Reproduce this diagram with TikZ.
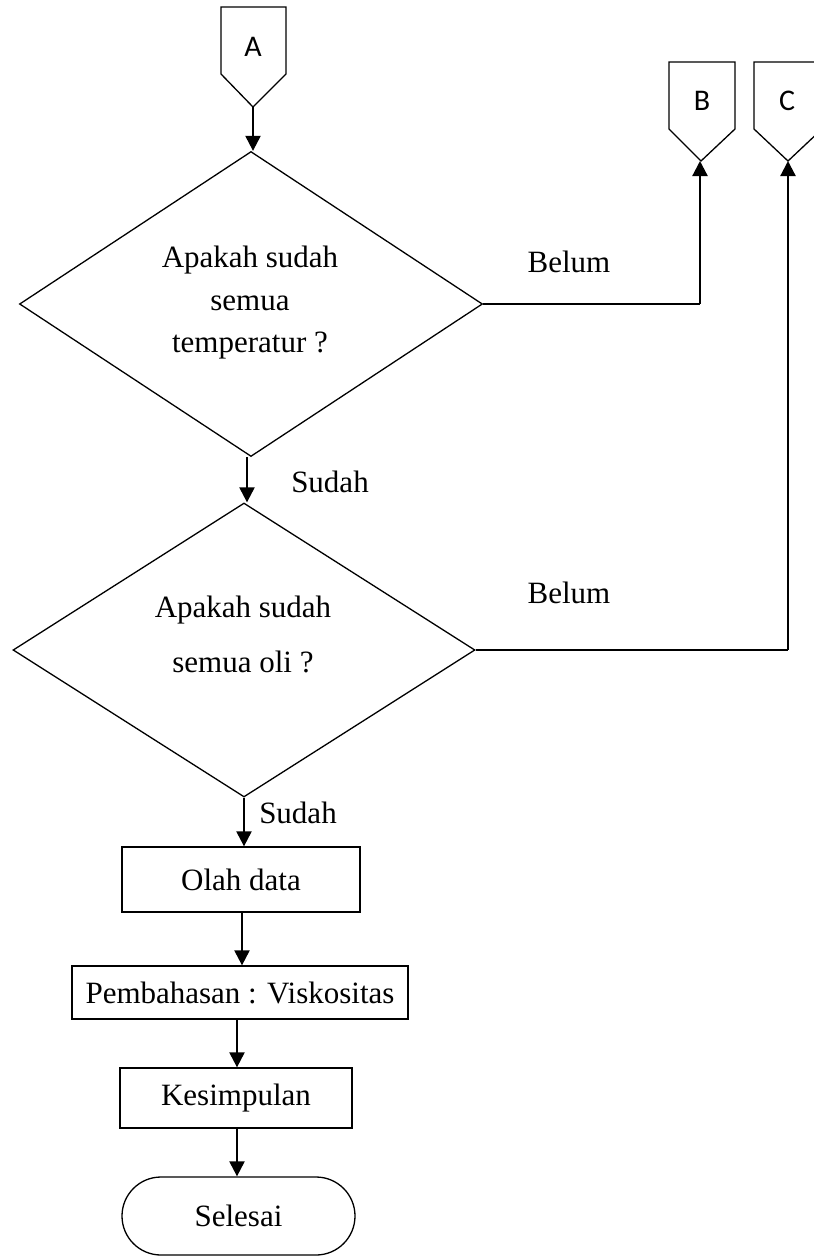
\documentclass[tikz,border=0pt]{standalone}
\usepackage{fontspec}
\setmainfont{Liberation Serif}
\newfontfamily\connfont{Carlito}
\usetikzlibrary{shapes.geometric,arrows.meta}

\begin{document}
\begin{tikzpicture}[x=1pt,y=-1pt,
  outline/.style={draw=black,line width=1.3pt,line join=miter},
  decision/.style={outline,diamond,inner sep=0pt},
  procbox/.style={outline,rectangle,inner sep=0pt,minimum height=#1},
  terminal/.style={outline,rectangle,rounded corners=39pt,inner sep=0pt,minimum width=233pt,minimum height=78pt},
  txt/.style={font=\fontsize{31}{37}\selectfont,inner sep=0pt,align=center},
  conntxt/.style={font=\connfont\fontsize{30}{34}\selectfont,inner sep=0pt},
  flow/.style={line width=2.2pt,-{Triangle[width=15pt,length=15pt]}},
  plainline/.style={line width=2pt}]

\useasboundingbox (0,0) rectangle (814,1256);
\clip (0,0) rectangle (814,1256);

% off-page connectors
\draw[outline] (221,7) -- (286,7) -- (286,74) -- (253,107) -- (221,74) -- cycle;
\node[conntxt] (lblA) at (253,47) {A};
\coordinate (Atip) at (253,107);

\draw[outline] (669,62) -- (735,62) -- (735,129) -- (701,161) -- (669,129) -- cycle;
\node[conntxt] (lblB) at (702,101) {B};
\coordinate (Btip) at (700,161);

\draw[outline] (754,62) -- (822,62) -- (822,129) -- (788,161) -- (754,129) -- cycle;
\node[conntxt] (lblC) at (787,101) {C};
\coordinate (Ctip) at (788,161);

% decisions
\node[decision,minimum width=463pt,minimum height=305pt] (d1) at (251,304) {};
\node[txt,anchor=base] (t1a) at (250,267) {Apakah sudah};
\node[txt,anchor=base] (t1b) at (250,310) {semua};
\node[txt,anchor=base] (t1c) at (250,352) {temperatur ?};

\node[decision,minimum width=462pt,minimum height=294pt] (d2) at (244,650) {};
\node[txt,anchor=base] (t2a) at (243,617) {Apakah sudah};
\node[txt,anchor=base] (t2b) at (243,672) {semua oli ?};

% process steps
\node[procbox=65pt,minimum width=238pt,txt] (olah) at (241,879.5) {Olah data};
\node[procbox=53pt,minimum width=336pt,txt] (bahas) at (240,992.5) {Pembahasan : Viskositas};
\node[procbox=60pt,minimum width=232pt,txt] (simpul) at (236,1098) {Kesimpulan};
\node[terminal,txt] (selesai) at (238.5,1216) {Selesai};

% branch labels
\node[txt,anchor=base] (y1) at (330,492) {Sudah};
\node[txt,anchor=base] (y2) at (298,823) {Sudah};
\node[txt,anchor=base] (n1) at (569,272) {Belum};
\node[txt,anchor=base] (n2) at (569,603) {Belum};

% connectors
\draw[flow] (Atip) -- (Atip |- d1.north);
\draw[flow] (d1.south -| 247,0) -- (d2.north -| 247,0);
\draw[flow] (d2.south) -- (d2.south |- olah.north);
\draw[flow] (olah.south -| 242,0) -- (bahas.north -| 242,0);
\draw[flow] (bahas.south -| 237,0) -- (simpul.north -| 237,0);
\draw[flow] (simpul.south -| 237,0) -- (selesai.north -| 237,0);
\draw[plainline] (d1.east) -- (d1.east -| Btip);
\draw[flow] (d1.east -| Btip) -- (Btip);
\draw[plainline] (d2.east) -- (d2.east -| Ctip);
\draw[flow] (d2.east -| Ctip) -- (Ctip);
\end{tikzpicture}
\end{document}
